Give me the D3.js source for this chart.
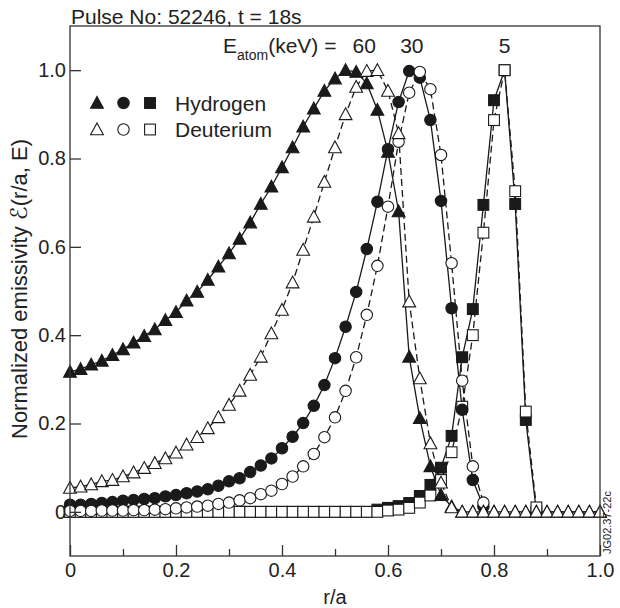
<!DOCTYPE html>
<html><head><meta charset="utf-8">
<script src="https://cdn.jsdelivr.net/npm/d3@7"></script>
<style>
body{margin:0;background:#fff}
svg{display:block}
text{font-family:"Liberation Sans",Arial,Helvetica,sans-serif;fill:#222}
</style>
</head><body>
<svg id="chart" width="620" height="608"></svg>
<script>
// ---------- DATA ----------
const rOverA = [0.00,0.02,0.04,0.06,0.08,0.10,0.12,0.14,0.16,0.18,
                0.20,0.22,0.24,0.26,0.28,0.30,0.32,0.34,0.36,0.38,
                0.40,0.42,0.44,0.46,0.48,0.50,0.52,0.54,0.56,0.58,
                0.60,0.62,0.64,0.66,0.68,0.70,0.72,0.74,0.76,0.78,
                0.80,0.82,0.84,0.86,0.88,0.90,0.92,0.94,0.96,0.98,1.00];

// 60 keV
const hydrogen60 = [0.317,0.323,0.333,0.342,0.355,0.368,0.383,0.398,0.413,0.434,
                    0.452,0.478,0.498,0.525,0.555,0.585,0.618,0.655,0.697,0.736,
                    0.780,0.825,0.872,0.913,0.953,0.981,1.000,0.996,0.970,0.910,
                    0.815,0.680,0.351,0.212,0.103,0.038,0.012,0,0,0,
                    0,0,0,0,0,0,0,0,0,0,0];
const deuterium60 = [0.054,0.057,0.062,0.069,0.072,0.080,0.089,0.099,0.110,0.121,
                     0.134,0.152,0.169,0.189,0.214,0.242,0.274,0.310,0.351,0.404,
                     0.457,0.519,0.593,0.668,0.747,0.825,0.900,0.962,0.998,1.000,
                     0.953,0.857,0.476,0.302,0.155,0.066,0.010,0,0,0,
                     0,0,0,0,0,0,0,0,0,0,0];
// 30 keV
const hydrogen30 = [0.016,0.016,0.018,0.020,0.022,0.025,0.027,0.029,0.031,0.035,
                    0.038,0.042,0.046,0.051,0.059,0.069,0.076,0.090,0.105,0.121,
                    0.144,0.170,0.201,0.240,0.287,0.348,0.419,0.498,0.595,0.702,
                    0.821,0.928,0.998,0.983,0.887,0.704,0.461,0.231,0.072,0.012];
const deuterium30 = [0.002,0.002,0.002,0.003,0.003,0.003,0.004,0.004,0.005,0.006,
                     0.008,0.010,0.012,0.014,0.018,0.021,0.026,0.031,0.040,0.048,
                     0.063,0.080,0.103,0.131,0.169,0.214,0.274,0.350,0.446,0.557,
                     0.691,0.838,0.949,0.996,0.957,0.808,0.563,0.297,0.103,0.021];
// 5 keV
const hydrogen5 = [0,0,0,0,0,0,0,0,0,0,
                   0,0,0,0,0,0,0,0,0,0,
                   0,0,0,0,0,0,0,0,0,0.005,
                   0.009,0.013,0.020,0.036,0.061,0.100,0.172,0.350,0.459,0.695,
                   0.932,1.000,0.697,0.208,0.000];
const deuterium5 = [0,0,0,0,0,0,0,0,0,0,
                    0,0,0,0,0,0,0,0,0,0,
                    0,0,0,0,0,0,0,0,0,0,
                    0.003,0.005,0.009,0.021,0.037,0.072,0.135,0.238,0.400,0.632,
                    0.887,1.000,0.726,0.227,0.010];

const energies = ["60","30","5"];
const speciesNames = ["Hydrogen","Deuterium"];
const xTickValues = [0,0.2,0.4,0.6,0.8,1.0];
const xTickLabels = ["0","0.2","0.4","0.6","0.8","1.0"];
const xMinorTicks = [0.1,0.3,0.5,0.7,0.9];
const yTickValues = [0,0.2,0.4,0.6,0.8,1.0];
const yTickLabels = ["0","0.2","0.4","0.6","0.8","1.0"];

// ---------- CHART ----------
const svg = d3.select("#chart");
const L = 70, R = 600, T = 26, B = 556;
const x = d3.scaleLinear().domain([0,1]).range([L,R]);
const y = d3.scaleLinear().domain([-0.1,1.1]).range([B,T]);
const ink = "#1a1a1a";

const series = [
  {vals: hydrogen5,  shape:"square",   filled:true,  dash:null},
  {vals: deuterium5, shape:"square",   filled:false, dash:"7,4"},
  {vals: hydrogen30, shape:"circle",   filled:true,  dash:null},
  {vals: deuterium30,shape:"circle",   filled:false, dash:"7,4"},
  {vals: hydrogen60, shape:"triangle", filled:true,  dash:null},
  {vals: deuterium60,shape:"triangle", filled:false, dash:"7,4"}
].map(s => ({...s, pts: s.vals.map((v,i)=>({r:rOverA[i], v}))}));

const line = d3.line().x(d=>x(d.r)).y(d=>y(d.v));

// lines
svg.append("g").selectAll("path").data(series).join("path")
  .attr("d", s=>line(s.pts))
  .attr("fill","none").attr("stroke",ink).attr("stroke-width",1.3)
  .attr("stroke-dasharray", s=>s.dash);

function drawMarker(g, shape, filled, cx, cy){
  const fill = filled ? ink : "#fff";
  if(shape==="circle"){
    g.append("circle").attr("cx",cx).attr("cy",cy).attr("r",5.7)
      .attr("fill",fill).attr("stroke",ink).attr("stroke-width",1.1);
  } else if(shape==="square"){
    g.append("rect").attr("x",cx-5.4).attr("y",cy-5.4).attr("width",10.8).attr("height",10.8)
      .attr("fill",fill).attr("stroke",ink).attr("stroke-width",1.1);
  } else {
    g.append("path").attr("d",`M${cx},${cy-6.5}L${cx+6.4},${cy+5.3}L${cx-6.4},${cy+5.3}Z`)
      .attr("fill",fill).attr("stroke",ink).attr("stroke-width",1.1).attr("stroke-linejoin","miter");
  }
}

const mk = svg.append("g");
series.forEach(s=>{
  s.pts.forEach(p=>drawMarker(mk, s.shape, s.filled, x(p.r), y(p.v)));
});

// frame
svg.append("rect").attr("x",L).attr("y",T).attr("width",R-L).attr("height",B-T)
  .attr("fill","none").attr("stroke","#333").attr("stroke-width",1.3);

// axes
const xAx = svg.append("g").attr("transform",`translate(0,${B})`)
  .call(d3.axisBottom(x).tickValues(xTickValues).tickSize(-11).tickPadding(7)
        .tickFormat((d,i)=>xTickLabels[i]));
const xMin = svg.append("g").attr("transform",`translate(0,${B})`)
  .call(d3.axisBottom(x).tickValues(xMinorTicks).tickSize(-7).tickFormat(""));
const yAx = svg.append("g").attr("transform",`translate(${L},0)`)
  .call(d3.axisLeft(y).tickValues(yTickValues).tickSize(-11).tickPadding(4)
        .tickFormat((d,i)=>yTickLabels[i]));
[xAx,xMin,yAx].forEach(g=>{
  g.select(".domain").remove();
  g.selectAll(".tick line").attr("stroke","#333").attr("stroke-width",1.3);
  g.selectAll(".tick text").attr("font-size",20).attr("fill","#222")
    .attr("font-family",'"Liberation Sans",Arial,sans-serif');
});

// axis titles
svg.append("text").attr("x",(L+R)/2).attr("y",604).attr("text-anchor","middle")
  .attr("font-size",20).text("r/a");
const yt = svg.append("text").attr("transform","translate(27,289) rotate(-90)")
  .attr("text-anchor","middle").attr("font-size",22);
yt.append("tspan").text("Normalized emissivity  ");
yt.append("tspan").attr("font-family",'"DejaVu Serif","DejaVu Sans",serif').attr("font-size",23).text("\u2130");
yt.append("tspan").text("(r/a, E)");

// title
svg.append("text").attr("x",71).attr("y",24).attr("font-size",21)
  .text("Pulse No: 52246, t = 18s");

// energy annotation
const eLab = svg.append("text").attr("x",223).attr("y",53).attr("font-size",21);
eLab.append("tspan").text("E");
eLab.append("tspan").attr("font-size",14).attr("dy",7).text("atom");
eLab.append("tspan").attr("dy",-7).text("(keV) =");
const ePos = [0.555, 0.645, 0.82];
svg.selectAll("text.en").data(energies).join("text").attr("class","en")
  .attr("x",(d,i)=>x(ePos[i])).attr("y",53).attr("text-anchor","middle")
  .attr("font-size",21).text(d=>d);

// legend
const shapes = ["triangle","circle","square"];
const legRows = [103, 129.5];
speciesNames.forEach((name,j)=>{
  shapes.forEach((sh,k)=>drawMarker(svg, sh, j===0, 97 + k*26.5, legRows[j]));
  svg.append("text").attr("x",175).attr("y",legRows[j]+7.5).attr("font-size",21).text(name);
});

// figure id
svg.append("text").attr("transform","translate(611,554) rotate(-90)")
  .attr("font-size",11).text("JG02.37-22c");
</script>
</body></html>
